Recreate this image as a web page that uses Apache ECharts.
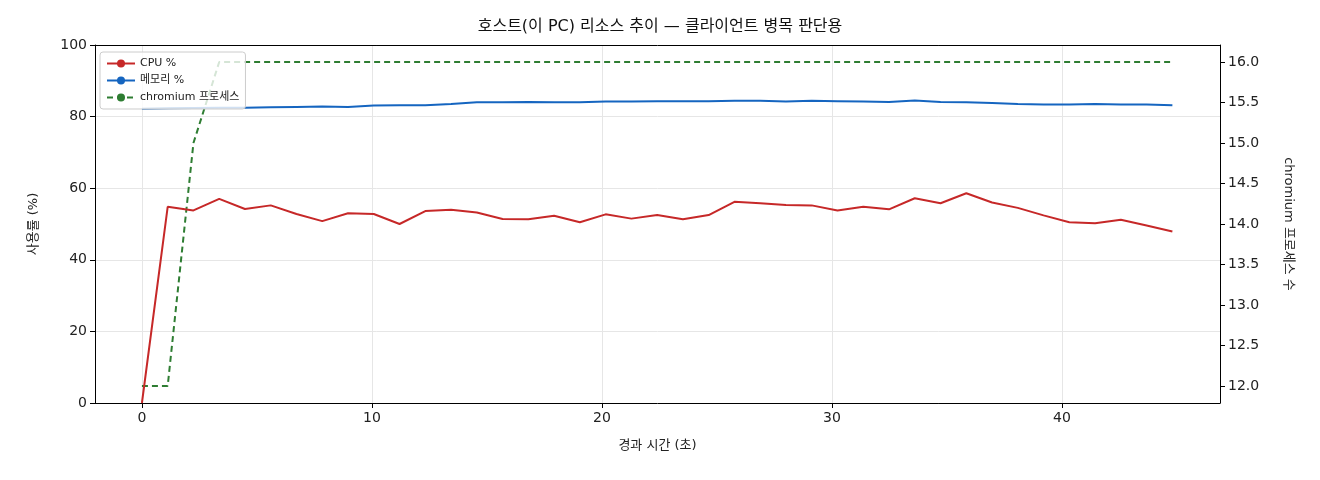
<!DOCTYPE html><html><head><meta charset="utf-8"><script src="https://cdn.jsdelivr.net/npm/echarts@6/dist/echarts.min.js"></script></head><body style="margin:0"><div id="c" style="width:1320px;height:480px"></div><script>
const cpu=[0,54.8,53.8,57,54.2,55.2,52.8,50.8,53.0,52.8,50.0,53.6,54.0,53.2,51.4,51.3,52.3,50.5,52.7,51.5,52.5,51.3,52.5,56.2,55.8,55.3,55.2,53.8,54.8,54.1,57.2,55.8,58.6,56.0,54.5,52.4,50.5,50.2,51.2,49.6,47.9];
const mem=[82.2,82.3,82.4,82.5,82.5,82.6,82.7,82.8,82.7,83.1,83.2,83.2,83.5,84.0,84.0,84.1,84.0,84.0,84.2,84.2,84.3,84.3,84.3,84.4,84.4,84.2,84.4,84.3,84.2,84.1,84.5,84.1,84.0,83.8,83.5,83.4,83.4,83.5,83.4,83.4,83.2];
const proc=[12,12,15,16,16,16,16,16,16,16,16,16,16,16,16,16,16,16,16,16,16,16,16,16,16,16,16,16,16,16,16,16,16,16,16,16,16,16,16,16,16];
const xTicks=[0,10,20,30,40];
const rTicks=[12,12.5,13,13.5,14,14.5,15,15.5,16];
const dt=1.12;
const t=cpu.map((_,i)=>+(i*dt).toFixed(2));
const pair=a=>a.map((v,i)=>[t[i],v]);
const F='DejaVu Sans, Noto Sans CJK KR';
const lab={color:'#222',fontSize:14,fontFamily:F};
const nts={color:'#222',fontSize:13,fontFamily:F};
const line={show:true,onZero:false,lineStyle:{color:'#000'}};
echarts.init(document.getElementById('c')).setOption({
title:{text:'호스트(이 PC) 리소스 추이 — 클라이언트 병목 판단용',left:'center',top:14,textStyle:{fontSize:16,fontWeight:'normal',color:'#111',fontFamily:F}},
grid:{left:95,right:100,top:45,bottom:77},
legend:{left:100,top:52,orient:'vertical',itemWidth:28,itemHeight:10,itemGap:6,borderColor:'#ccc',borderWidth:1,borderRadius:3,padding:[6,6],backgroundColor:'rgba(255,255,255,0.8)',textStyle:{fontSize:11,fontFamily:F,color:'#222'}},
xAxis:[{type:'value',min:-2.04,max:46.87,name:'경과 시간 (초)',nameLocation:'middle',nameGap:36,nameTextStyle:nts,axisLine:line,axisTick:{show:true,customValues:xTicks,lineStyle:{color:'#000'}},axisLabel:Object.assign({customValues:xTicks},lab),splitLine:{show:true,lineStyle:{color:'#e6e6e6'}}},
{type:'value',position:'top',min:-2.04,max:46.87,axisLine:line,axisTick:{show:false},axisLabel:{show:false},splitLine:{show:false}}],
yAxis:[{type:'value',min:0,max:100,interval:20,name:'사용률 (%)',nameLocation:'middle',nameGap:55,nameTextStyle:nts,axisLine:line,axisTick:{show:true,lineStyle:{color:'#000'}},axisLabel:lab,splitLine:{lineStyle:{color:'#e6e6e6'}}},
{type:'value',min:11.79,max:16.21,name:'chromium 프로세스 수',nameLocation:'middle',nameGap:62,nameRotate:-90,nameTextStyle:nts,splitLine:{show:false},axisLine:line,axisLabel:Object.assign({customValues:rTicks,formatter:v=>v.toFixed(1)},lab),axisTick:{show:true,customValues:rTicks,lineStyle:{color:'#000'}}}],
series:[
{name:'CPU %',type:'line',data:pair(cpu),symbol:'none',lineStyle:{color:'#c62828',width:2},itemStyle:{color:'#c62828'},z:3},
{name:'메모리 %',type:'line',data:pair(mem),symbol:'none',lineStyle:{color:'#1565c0',width:2},itemStyle:{color:'#1565c0'},z:3},
{name:'chromium 프로세스',type:'line',yAxisIndex:1,data:pair(proc),symbol:'none',lineStyle:{color:'#2e7d32',width:2,type:[6,4]},itemStyle:{color:'#2e7d32'},z:2}]
});
</script></body></html>
